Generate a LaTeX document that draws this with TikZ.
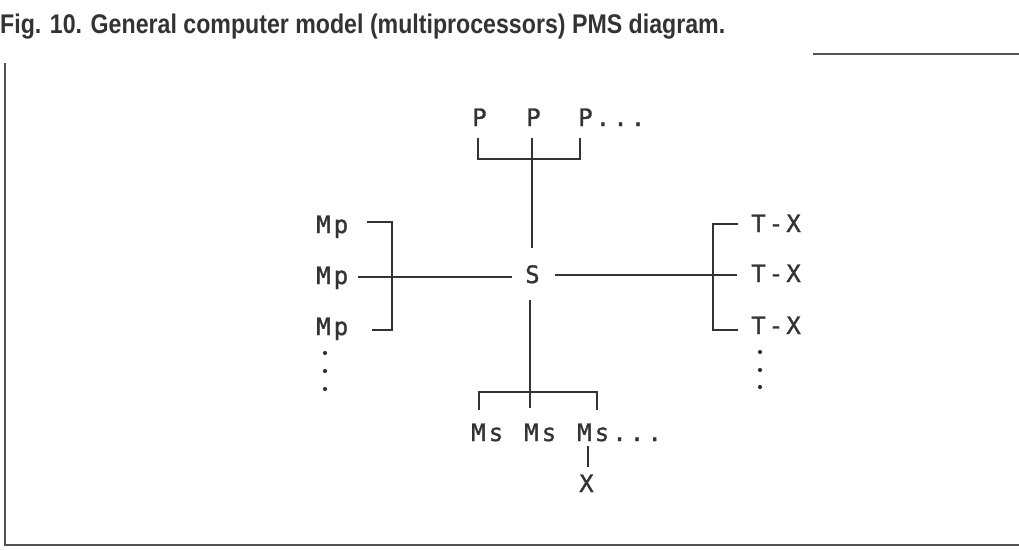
\documentclass[tikz,border=0pt]{standalone}
\usepackage{fontspec}
\usepackage{graphicx}
\newfontfamily\capfont{Liberation Sans}
\newfontfamily\pmsfont[LetterSpace=13,FakeBold=1.2]{DejaVu Sans Mono}
\definecolor{ink}{HTML}{333333}
\begin{document}
\begin{tikzpicture}[x=1pt,y=-1pt,
  lbl/.style={font=\pmsfont\fontsize{24}{28}\selectfont, text=ink, inner sep=0pt, anchor=base west},
  wire/.style={draw=ink, line width=2.7pt, line cap=butt, line join=miter},
  frame/.style={draw=ink!85, line width=2.8pt},
  dotmark/.style={fill=ink, draw=none}]
\useasboundingbox (0,0) rectangle (1019,549);
% caption
\node[anchor=base west, inner sep=0pt, text=ink] (cap) at (0,33)
  {\resizebox{725pt}{\height}{\capfont\bfseries\fontsize{27}{31}\selectfont Fig. 10. General computer model (multiprocessors) PMS diagram.}};
% frame
\coordinate (ftl) at (813,54); \coordinate (ftr) at (1019,54);
\coordinate (fl1) at (5,63); \coordinate (fl2) at (5,545); \coordinate (fbr) at (1019,545);
\draw[frame] (ftl) -- (ftr);
\draw[frame] (fl1) -- (fl2) -- (fbr);
% labels
\node[lbl] (p1) at (472,126) {P};
\node[lbl] (p2) at (526,126) {P};
\node[lbl] (p3) at (578,126) {P...};
\node[lbl] (s) at (525,283) {S};
\node[lbl] (mp1) at (316,233) {Mp};
\node[lbl] (mp2) at (316,284) {Mp};
\node[lbl] (mp3) at (316,335) {Mp};
\node[lbl] (tx1) at (751,232) {T-X};
\node[lbl] (tx2) at (751,282) {T-X};
\node[lbl] (tx3) at (751,334) {T-X};
\node[lbl] (ms1) at (471,441) {Ms};
\node[lbl] (ms2) at (524,441) {Ms};
\node[lbl] (ms3) at (577,441) {Ms...};
\node[lbl] (x) at (579,492) {X};
% top bracket
\coordinate (pa) at (478,138); \coordinate (pb) at (478,159);
\coordinate (pc) at (580,159); \coordinate (pd) at (580,138);
\coordinate (pe) at (532,138);
\coordinate (stop) at (532,248);
\draw[wire] (pa) -- (pb) -- (pc) -- (pd);
\draw[wire] (pe) -- (stop);
% bottom bracket
\coordinate (sbot) at (530,300); \coordinate (qm) at (530,408);
\coordinate (qa) at (479,410); \coordinate (qb) at (479,392);
\coordinate (qc) at (597,392); \coordinate (qd) at (597,410);
\draw[wire] (sbot) -- (qm);
\draw[wire] (qa) -- (qb) -- (qc) -- (qd);
\coordinate (xa) at (588,446); \coordinate (xb) at (588,467);
\draw[wire] (xa) -- (xb);
% left bracket
\coordinate (la) at (358,277); \coordinate (sl) at (512,277);
\coordinate (lb) at (367,222); \coordinate (lc) at (392,222);
\coordinate (ld) at (392,330); \coordinate (le) at (372,330);
\draw[wire] (la) -- (sl);
\draw[wire] (lb) -- (lc) -- (ld) -- (le);
% right bracket
\coordinate (sr) at (555,275); \coordinate (ra) at (737,275);
\coordinate (rb) at (738,224); \coordinate (rc) at (713,224);
\coordinate (rd) at (713,330); \coordinate (re) at (738,330);
\draw[wire] (sr) -- (ra);
\draw[wire] (rb) -- (rc) -- (rd) -- (re);
% vertical ellipses
\foreach \yy in {353,371,389} { \fill[dotmark] (325,\yy) circle (2.1); }
\foreach \yy in {352,370,387} { \fill[dotmark] (760,\yy) circle (2.1); }
\end{tikzpicture}
\end{document}
